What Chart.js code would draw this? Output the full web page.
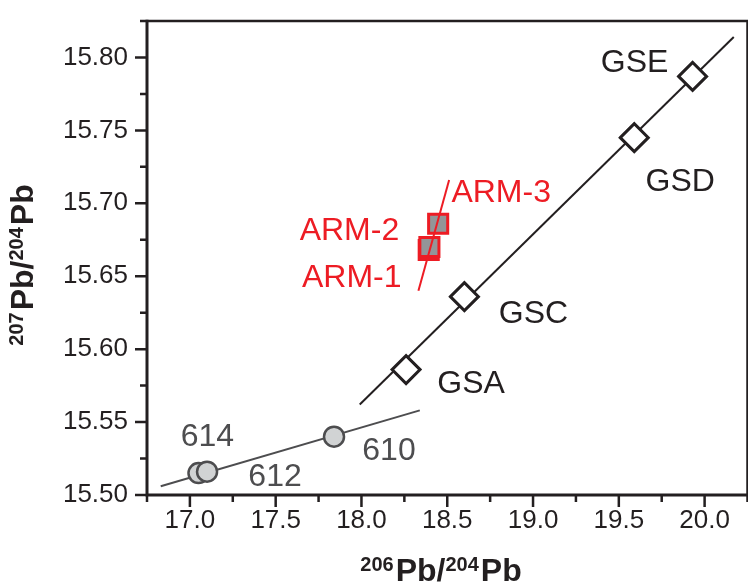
<!DOCTYPE html>
<html>
<head>
<meta charset="utf-8">
<script src="https://cdn.jsdelivr.net/npm/chart.js@4.4.0/dist/chart.umd.min.js"></script>
<style>
  html, body { margin: 0; padding: 0; background: #fff; }
  #wrap { width: 748px; height: 588px; }
</style>
</head>
<body>
<div id="wrap"><canvas id="pbChart" width="748" height="588"></canvas></div>
<script>
// reference materials (diamonds)
const gsNames = ['GSA', 'GSC', 'GSD', 'GSE'];
const gsX = [18.26, 18.60, 19.59, 19.93];
const gsY = [15.586, 15.636, 15.745, 15.787];

// NIST SRM glasses (circles)
const nistNames = ['614', '612', '610'];
const nistX = [17.05, 17.10, 17.84];
const nistY = [15.515, 15.516, 15.540];

// ARM glasses (squares)
const armNames = ['ARM-1', 'ARM-2', 'ARM-3'];
const armX = [18.392, 18.396, 18.447];
const armY = [15.668, 15.670, 15.686];

// trend lines (end points)
const gsFitX = [17.99, 20.17];
const gsFitY = [15.562, 15.814];
const nistFitX = [16.83, 18.34];
const nistFitY = [15.506, 15.558];
const armFitX = [18.332, 18.511];
const armFitY = [15.640, 15.716];

// axes
const xTicks = [17.0, 17.5, 18.0, 18.5, 19.0, 19.5, 20.0];
const xTickLabels = ['17.0', '17.5', '18.0', '18.5', '19.0', '19.5', '20.0'];
const xMinorTicks = [16.75, 17.25, 17.75, 18.25, 18.75, 19.25, 19.75, 20.25];
const yTicks = [15.50, 15.55, 15.60, 15.65, 15.70, 15.75, 15.80];
const yTickLabels = ['15.50', '15.55', '15.60', '15.65', '15.70', '15.75', '15.80'];
const yMinorTicks = [15.525, 15.575, 15.625, 15.675, 15.725, 15.775, 15.825];

// label placement, pixels from the point
const gsLabelOffsets = [[65, 15], [69, 18], [46, 44], [-58, -13]];
const nistLabelOffsets = [[9, -36], [68, 6], [55, 15]];
const armLabelOffsets = [[-77, 28], [-80, -16], [63, -31]];

const INK = '#231f20';
const GREY = '#4d4d4f';
const RED = '#ed1c24';
const FONT = "'Liberation Sans', Arial, Helvetica, sans-serif";

const toPts = (xs, ys) => xs.map((x, i) => ({ x: x, y: ys[i] }));

const pointLabels = {
  id: 'pointLabels',
  afterDatasetsDraw(chart) {
    const ctx = chart.ctx;
    ctx.save();
    ctx.font = '32px ' + FONT;
    ctx.textAlign = 'center';
    ctx.textBaseline = 'middle';
    chart.data.datasets.forEach((ds, i) => {
      if (!ds.names) return;
      const meta = chart.getDatasetMeta(i);
      ctx.fillStyle = ds.labelColor;
      ds.names.forEach((name, j) => {
        const el = meta.data[j];
        const off = ds.offsets[j];
        ctx.fillText(name, el.x + off[0], el.y + off[1]);
      });
    });
    ctx.restore();
  }
};

function drawSupTitle(ctx, parts, cx, baseY) {
  // parts: [text, isSup]
  let total = 0;
  parts.forEach(p => {
    ctx.font = (p[1] ? 'bold 20px ' : 'bold 32px ') + FONT;
    total += ctx.measureText(p[0]).width + (p[1] ? 2 : 0);
  });
  let x = cx - total / 2;
  ctx.textAlign = 'left';
  ctx.textBaseline = 'alphabetic';
  parts.forEach(p => {
    ctx.font = (p[1] ? 'bold 20px ' : 'bold 32px ') + FONT;
    ctx.fillText(p[0], x, p[1] ? baseY - 10 : baseY);
    x += ctx.measureText(p[0]).width + (p[1] ? 2 : 0);
  });
}

const frame = {
  id: 'frame',
  afterDraw(chart) {
    const ctx = chart.ctx;
    const a = chart.chartArea;
    const xs = chart.scales.x;
    const ys = chart.scales.y;
    ctx.save();
    ctx.strokeStyle = INK;
    ctx.lineCap = 'butt';

    // top and right box lines
    ctx.lineWidth = 2.5;
    ctx.beginPath();
    ctx.moveTo(a.left, a.top);
    ctx.lineTo(a.right, a.top);
    ctx.lineTo(a.right, a.bottom);
    ctx.stroke();

    // axis lines
    ctx.lineWidth = 3;
    ctx.beginPath();
    ctx.moveTo(a.left, a.top - 1.2);
    ctx.lineTo(a.left, a.bottom);
    ctx.lineTo(a.right + 1.2, a.bottom);
    ctx.stroke();

    // tick marks
    ctx.lineWidth = 2.5;
    ctx.beginPath();
    xTicks.forEach(v => {
      const px = xs.getPixelForValue(v);
      ctx.moveTo(px, a.bottom);
      ctx.lineTo(px, a.bottom + 12);
    });
    xMinorTicks.forEach(v => {
      const px = xs.getPixelForValue(v);
      ctx.moveTo(px, a.bottom);
      ctx.lineTo(px, a.bottom + 7);
    });
    yTicks.forEach(v => {
      const py = ys.getPixelForValue(v);
      ctx.moveTo(a.left, py);
      ctx.lineTo(a.left - 12, py);
    });
    yMinorTicks.forEach(v => {
      const py = ys.getPixelForValue(v);
      ctx.moveTo(a.left, py);
      ctx.lineTo(a.left - 7, py);
    });
    ctx.stroke();

    // axis titles
    ctx.fillStyle = INK;
    drawSupTitle(ctx, [['206', true], ['Pb/', false], ['204', true], ['Pb', false]], 441, 581);
    ctx.translate(33, 265);
    ctx.rotate(-Math.PI / 2);
    drawSupTitle(ctx, [['207', true], ['Pb/', false], ['204', true], ['Pb', false]], 0, 0);
    ctx.restore();
  }
};

Chart.defaults.font.family = FONT;

new Chart(document.getElementById('pbChart').getContext('2d'), {
  type: 'scatter',
  data: {
    datasets: [
      {
        label: 'ARM fit',
        data: toPts(armFitX, armFitY),
        showLine: true,
        borderColor: RED,
        borderWidth: 2,
        pointRadius: 0,
        order: 0
      },
      {
        label: 'ARM',
        data: toPts(armX, armY),
        names: armNames,
        offsets: armLabelOffsets,
        labelColor: RED,
        pointStyle: 'rect',
        pointRadius: 13.5,
        pointBorderWidth: 3,
        pointBackgroundColor: '#939598',
        pointBorderColor: RED,
        order: 1
      },
      {
        label: 'GS',
        data: toPts(gsX, gsY),
        names: gsNames,
        offsets: gsLabelOffsets,
        labelColor: INK,
        pointStyle: 'rectRot',
        pointRadius: 14,
        pointBorderWidth: 3,
        pointBackgroundColor: '#ffffff',
        pointBorderColor: INK,
        order: 2
      },
      {
        label: 'NIST',
        data: toPts(nistX, nistY),
        names: nistNames,
        offsets: nistLabelOffsets,
        labelColor: GREY,
        pointStyle: 'circle',
        pointRadius: 10,
        pointBorderWidth: 2.5,
        pointBackgroundColor: '#d1d3d4',
        pointBorderColor: GREY,
        order: 3
      },
      {
        label: 'GS fit',
        data: toPts(gsFitX, gsFitY),
        showLine: true,
        borderColor: INK,
        borderWidth: 2,
        pointRadius: 0,
        order: 4
      },
      {
        label: 'NIST fit',
        data: toPts(nistFitX, nistFitY),
        showLine: true,
        borderColor: GREY,
        borderWidth: 2,
        pointRadius: 0,
        order: 5
      }
    ]
  },
  options: {
    responsive: false,
    animation: false,
    devicePixelRatio: 1,
    layout: { autoPadding: false, padding: { top: 21, right: 0.5, left: 0, bottom: 0 } },
    plugins: {
      legend: { display: false },
      tooltip: { enabled: false }
    },
    scales: {
      x: {
        type: 'linear',
        min: 16.75,
        max: 20.25,
        grid: { display: false, drawTicks: false },
        border: { display: false },
        afterBuildTicks: s => { s.ticks = xTicks.map(v => ({ value: v })); },
        afterFit: s => { s.height = 93; s.paddingLeft = 0; s.paddingRight = 0; },
        ticks: {
          padding: 10,
          color: INK,
          font: { size: 26 },
          maxRotation: 0,
          callback: (v, i) => xTickLabels[i]
        }
      },
      y: {
        type: 'linear',
        min: 15.50,
        max: 15.825,
        grid: { display: false, drawTicks: false },
        border: { display: false },
        afterBuildTicks: s => { s.ticks = yTicks.map(v => ({ value: v })); },
        afterFit: s => { s.width = 147; s.paddingTop = 0; s.paddingBottom = 0; },
        ticks: {
          padding: 19,
          color: INK,
          font: { size: 26 },
          callback: (v, i) => yTickLabels[i]
        }
      }
    }
  },
  plugins: [pointLabels, frame]
});
</script>
</body>
</html>
